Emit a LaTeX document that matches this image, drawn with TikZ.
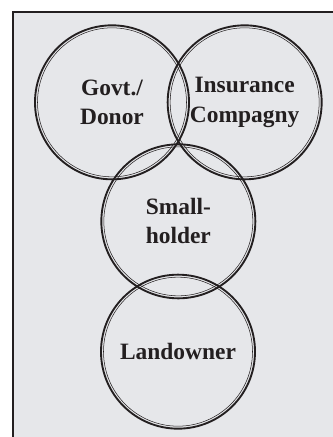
\documentclass[tikz,border=0pt]{standalone}
\usepackage{fontspec}
\setmainfont{Liberation Serif}
\definecolor{panel}{RGB}{230,231,234}
\definecolor{ink}{RGB}{35,31,32}
\tikzset{
  party/.style={circle, draw=ink, line width=1.6pt, minimum size=4.62cm, inner sep=0pt,
    align=center, text=ink, font=\fontsize{20}{25}\selectfont\bfseries},
  ring/.style={draw=ink, line width=0.45pt},
  frame/.style={draw=ink, line width=1.4pt}
}
\begin{document}
\begin{tikzpicture}
  \useasboundingbox (0,0) rectangle (9.96,-13.11);
  \fill[panel] (0.39,-0.36) rectangle (10.5,-14);
  \draw[frame] (0.39,-14) |- (10.5,-0.36);

  \node[party] (govt) at (3.36,-3.07) {Govt./\\Donor};
  \node[party] (insurer) at (7.34,-3.07) {Insurance\\Compagny};
  \node[party] (holder) at (5.35,-6.64) {Small-\\holder};
  \node[party] (owner) at (5.34,-10.55) {Landowner};

  % thin inner line of each double circle
  \foreach \n in {govt,insurer,holder,owner}
    \draw[ring] (\n.center) circle (2.235cm);
\end{tikzpicture}
\end{document}
